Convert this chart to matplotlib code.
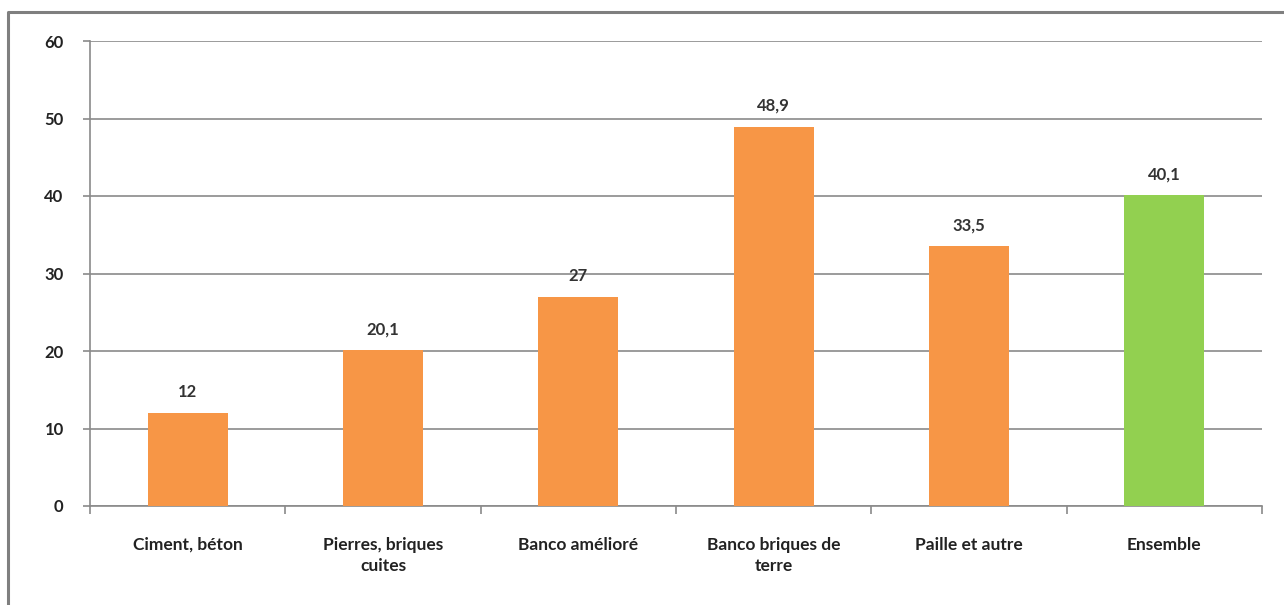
import matplotlib.pyplot as plt
from matplotlib.lines import Line2D

categories = ["Ciment, béton", "Pierres, briques\ncuites", "Banco amélioré",
              "Banco briques de\nterre", "Paille et autre", "Ensemble"]
values = [12, 20.1, 27, 48.9, 33.5, 40.1]
bar_colors = ["#F79646", "#F79646", "#F79646", "#F79646", "#F79646", "#92D050"]
yticks = [0, 10, 20, 30, 40, 50, 60]

plt.rcParams['font.family'] = ['Lato', 'DejaVu Sans']

fig = plt.figure(figsize=(12.84, 6.05), dpi=100)
fig.patch.set_facecolor('white')

# outer frame of the chart area (left and top edges only are in view)
fx, fy = 8 / 1284, 1 - 12 / 605
frame = Line2D([fx, fx, 1.0], [0.0, fy, fy], transform=fig.transFigure,
               color='#7f7f7f', linewidth=2.2, clip_on=False, zorder=10)
fig.add_artist(frame)

ax = fig.add_axes([90 / 1284, 1 - 506 / 605, (1262 - 90) / 1284, (506 - 41) / 605])

x = list(range(len(categories)))
ax.bar(x, values, width=0.41, color=bar_colors, zorder=3)

for xi, v in zip(x, values):
    label = ('%g' % v).replace('.', ',')
    ax.text(xi, v + 1.7, label, ha='center', va='bottom',
            fontsize=12, fontweight='bold', color='#333333')

ax.set_xlim(-0.5, len(categories) - 0.5)
ax.set_ylim(0, 60)
ax.set_yticks(yticks)
ax.yaxis.grid(True, color='#8a8a8a', linewidth=1.2, zorder=0)
ax.set_axisbelow(True)

ax.set_xticks(x)
ax.set_xticklabels(categories, fontsize=12.5, fontweight='bold', color='#222222',
                   linespacing=1.45)
ax.tick_params(axis='x', length=0, pad=22)
ax.set_xticks([i + 0.5 for i in x[:-1]] + [-0.5, len(categories) - 0.5], minor=True)
ax.tick_params(axis='x', which='minor', length=6, color='#8a8a8a', width=1.2)
ax.tick_params(axis='y', length=5, color='#8a8a8a', width=1.2, pad=14,
               labelsize=12, labelcolor='#222222')
for lbl in ax.get_yticklabels():
    lbl.set_fontweight('bold')

for side in ['top', 'right']:
    ax.spines[side].set_visible(False)
for side in ['left', 'bottom']:
    ax.spines[side].set_color('#8a8a8a')
    ax.spines[side].set_linewidth(1.2)

fig.savefig('out.png', dpi=100)
